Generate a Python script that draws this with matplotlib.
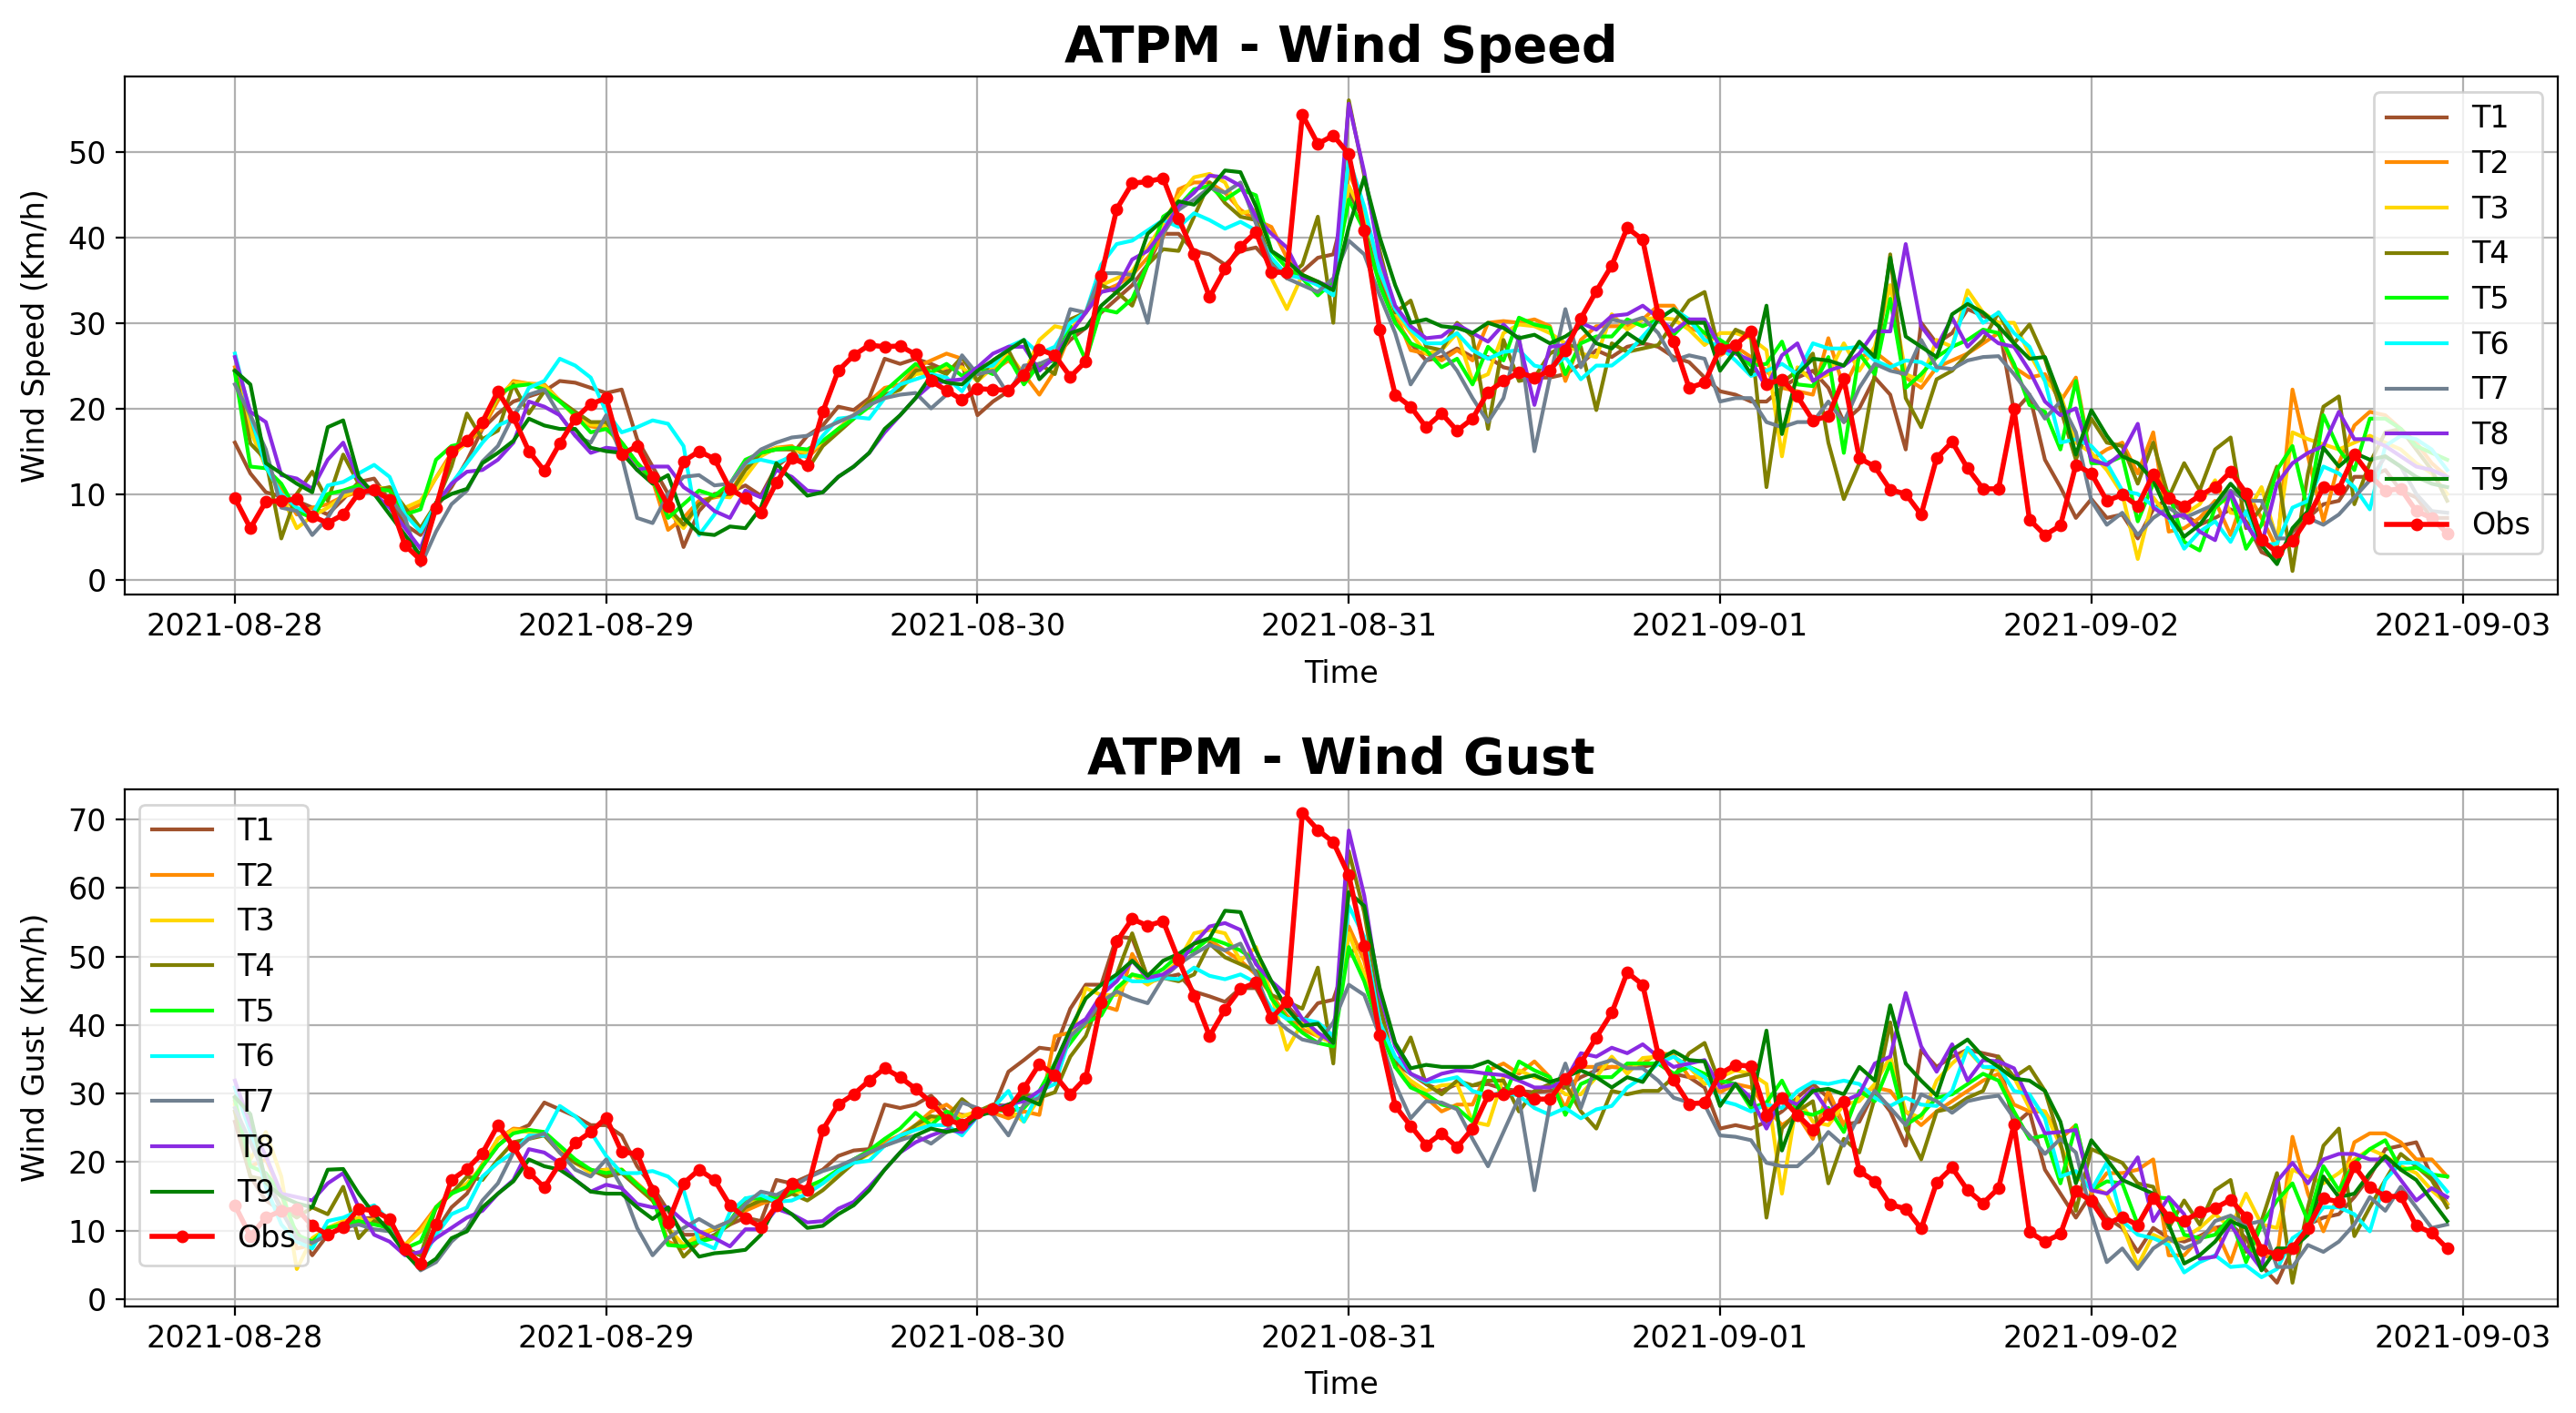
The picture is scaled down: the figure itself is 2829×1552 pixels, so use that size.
import matplotlib
matplotlib.use("Agg")
import matplotlib.pyplot as plt
import matplotlib.dates as mdates
import pandas as pd

times = pd.date_range("2021-08-28 00:00", periods=144, freq="h")

labels = ["T1", "T2", "T3", "T4", "T5", "T6", "T7", "T8", "T9"]
colors = ["sienna", "darkorange", "gold", "olive", "lime", "cyan", "slategray", "blueviolet", "green"]

# ---------------- Wind Speed (km/h) ----------------
obs_ws = [9.6, 6.1, 9.2, 9.3, 9.5, 7.5, 6.7, 7.7, 10.2, 10.6, 9.4, 4.1, 2.4, 8.5, 15.1, 16.3, 18.5, 22.1, 19.1, 15.1, 12.8, 16.0, 18.9, 20.6,
          21.3, 14.7, 15.7, 12.1, 8.7, 13.9, 15.1, 14.2, 10.7, 9.6, 7.9, 11.4, 14.3, 13.5, 19.7, 24.5, 26.3, 27.5, 27.3, 27.4, 26.4, 23.3, 22.2, 21.1,
          22.4, 22.3, 22.2, 24.0, 27.0, 26.3, 23.8, 25.6, 35.6, 43.4, 46.4, 46.6, 47.0, 42.3, 38.1, 33.1, 36.4, 39.0, 40.7, 36.0, 36.0, 54.4, 51.0, 52.0,
          49.8, 40.9, 29.3, 21.7, 20.3, 17.9, 19.5, 17.5, 18.9, 22.0, 23.3, 24.3, 23.7, 24.5, 26.9, 30.6, 33.8, 36.8, 41.2, 39.8, 31.1, 27.9, 22.5, 23.1,
          27.1, 27.5, 29.1, 22.9, 23.5, 21.5, 18.7, 19.2, 23.6, 14.3, 13.3, 10.6, 10.1, 7.7, 14.3, 16.2, 13.1, 10.7, 10.7, 20.0, 7.1, 5.3, 6.4, 13.5,
          12.5, 9.3, 10.0, 8.7, 12.4, 9.6, 8.7, 9.9, 10.9, 12.7, 10.2, 4.7, 3.3, 4.6, 7.3, 10.9, 10.7, 14.7, 12.3, 10.5, 10.7, 8.1, 7.3, 5.5]

t1_ws = [16.1, 12.5, 10.3, 9.8, 9.3, 8.5, 7.7, 9.5, 11.5, 11.9, 9.3, 6.5, 5.3, 8.5, 10.9, 14.0, 17.7, 19.5, 20.9, 21.5, 22.1, 23.3, 23.1, 22.5,
         21.9, 22.3, 16.5, 13.3, 10.1, 3.9, 8.1, 10.1, 10.3, 11.1, 9.9, 13.3, 14.7, 16.9, 18.1, 20.3, 19.9, 21.3, 25.9, 25.3, 25.9, 25.3, 24.5, 25.3,
         19.3, 20.9, 22.1, 24.5, 24.9, 26.1, 28.1, 29.5, 31.3, 32.9, 34.5, 36.9, 40.5, 40.5, 38.5, 38.1, 36.9, 38.5, 38.9, 36.9, 35.7, 36.1, 37.7, 38.1,
         45.3, 42.1, 35.3, 30.5, 27.7, 25.7, 26.1, 27.1, 26.1, 26.1, 24.9, 24.5, 23.7, 23.7, 24.1, 25.3, 26.9, 26.1, 27.3, 27.7, 27.3, 26.1, 25.5, 23.7,
         22.1, 21.7, 20.9, 20.9, 22.5, 23.7, 24.5, 22.5, 18.5, 20.1, 23.7, 21.7, 15.3, 30.1, 27.7, 28.9, 31.7, 30.9, 30.1, 19.7, 21.7, 14.1, 10.9, 7.3,
         9.5, 7.3, 7.7, 4.9, 8.3, 9.7, 7.7, 6.5, 7.3, 8.3, 6.9, 3.3, 2.5, 5.7, 7.3, 8.9, 9.3, 12.1, 12.1, 12.9, 10.5, 9.7, 7.3, 7.3]

t2_ws = [24.9, 18.0, 13.3, 10.5, 7.7, 8.5, 8.9, 9.8, 10.3, 10.6, 10.5, 8.0, 8.9, 12.0, 14.9, 16.0, 17.7, 21.0, 23.3, 23.0, 22.9, 21.0, 19.3, 18.0,
         17.7, 16.1, 13.7, 11.7, 5.9, 7.3, 9.3, 9.7, 10.1, 13.3, 14.9, 15.5, 15.7, 14.3, 16.1, 17.7, 19.3, 20.9, 22.5, 22.9, 24.9, 25.7, 26.5, 25.9,
         24.1, 24.5, 25.7, 24.1, 21.7, 24.5, 28.9, 31.3, 33.7, 34.5, 35.7, 37.7, 40.1, 45.7, 46.5, 46.5, 45.3, 43.3, 42.1, 41.3, 37.7, 35.7, 34.9, 34.1,
         47.7, 43.3, 36.1, 31.3, 26.9, 26.5, 25.7, 26.9, 25.7, 30.1, 30.3, 30.1, 30.5, 29.7, 23.3, 28.1, 29.7, 29.7, 29.7, 30.5, 32.1, 32.1, 29.5, 28.9,
         26.3, 27.3, 26.1, 24.5, 22.5, 22.1, 21.7, 28.3, 22.5, 26.1, 26.7, 25.3, 23.7, 22.5, 24.9, 25.7, 26.5, 27.7, 28.9, 24.9, 23.7, 24.1, 20.9, 23.7,
         14.1, 15.3, 16.1, 12.5, 17.3, 5.7, 6.1, 7.3, 9.3, 5.3, 10.5, 7.3, 3.7, 22.3, 14.5, 6.9, 13.7, 18.1, 19.7, 19.3, 17.7, 16.1, 13.7, 12.1]

t3_ws = [24.5, 17.5, 13.3, 10.0, 6.1, 7.5, 8.5, 9.8, 10.7, 10.9, 10.7, 8.5, 9.3, 12.0, 14.5, 16.2, 18.1, 21.5, 23.1, 23.0, 22.7, 21.0, 19.1, 18.2,
         18.1, 15.3, 13.7, 12.1, 8.1, 6.1, 8.9, 9.9, 9.7, 12.1, 14.5, 15.5, 15.3, 14.9, 16.1, 17.7, 19.1, 20.5, 21.5, 22.3, 24.1, 24.3, 24.9, 24.9,
         23.3, 24.9, 26.5, 24.1, 28.1, 29.7, 29.3, 31.3, 34.5, 35.3, 36.1, 38.9, 41.7, 44.9, 47.1, 47.5, 46.5, 42.9, 43.3, 35.3, 31.7, 35.7, 34.5, 34.5,
         46.1, 42.5, 36.9, 31.3, 28.9, 26.5, 26.9, 28.9, 23.3, 24.1, 28.9, 29.9, 29.7, 28.9, 27.7, 26.5, 26.1, 31.1, 29.3, 30.5, 30.7, 30.5, 29.3, 27.5,
         28.9, 28.9, 28.3, 26.9, 14.5, 24.9, 23.3, 24.1, 27.7, 24.5, 27.3, 34.5, 24.1, 23.3, 28.1, 27.3, 33.9, 31.3, 30.1, 30.1, 26.5, 23.3, 21.7, 16.1,
         14.9, 12.9, 10.1, 2.5, 9.7, 7.3, 7.7, 8.9, 11.7, 7.9, 7.7, 10.9, 4.7, 17.3, 16.5, 15.9, 15.3, 16.1, 16.9, 16.1, 15.3, 13.7, 12.5, 10.1]

t4_ws = [24.5, 16.0, 14.1, 4.9, 10.1, 12.7, 9.3, 14.7, 11.3, 10.5, 10.9, 8.5, 6.1, 9.0, 13.3, 19.5, 16.5, 17.5, 22.9, 19.5, 22.1, 21.0, 19.7, 18.5,
         18.5, 16.1, 13.7, 11.7, 8.5, 6.5, 8.9, 9.9, 10.1, 12.9, 14.9, 15.3, 15.3, 12.9, 15.7, 17.3, 18.9, 20.9, 21.7, 22.3, 24.5, 24.9, 24.1, 26.1,
         23.3, 25.7, 26.9, 23.3, 25.3, 24.1, 30.5, 31.3, 34.5, 33.7, 32.1, 36.9, 38.7, 38.5, 42.5, 46.5, 44.1, 42.5, 42.1, 37.3, 35.3, 36.9, 42.5, 30.1,
         56.1, 47.3, 38.5, 31.3, 32.7, 27.3, 26.9, 30.1, 28.5, 17.7, 28.1, 23.3, 23.7, 26.5, 27.5, 27.3, 19.9, 27.7, 26.7, 27.1, 27.5, 30.1, 32.7, 33.7,
         26.5, 29.3, 28.5, 10.9, 23.1, 24.5, 26.5, 16.1, 9.5, 13.7, 24.1, 38.1, 21.3, 17.9, 23.5, 24.5, 26.5, 28.1, 31.3, 27.7, 29.9, 25.9, 20.1, 14.1,
         18.9, 16.1, 15.7, 11.3, 16.1, 9.7, 13.7, 10.5, 15.3, 16.7, 6.1, 8.5, 13.3, 1.1, 12.5, 20.3, 21.5, 8.9, 13.7, 17.3, 17.7, 15.3, 12.9, 9.3]

t5_ws = [24.3, 13.3, 13.1, 11.3, 8.1, 7.3, 10.1, 10.5, 11.1, 10.7, 10.5, 7.7, 8.3, 14.1, 15.7, 16.1, 18.5, 21.7, 22.7, 22.9, 22.3, 20.9, 19.3, 17.3,
         17.7, 16.1, 13.7, 11.9, 7.3, 8.9, 10.5, 9.9, 11.3, 14.1, 14.9, 15.3, 15.5, 15.3, 16.3, 17.7, 18.9, 20.3, 22.1, 23.7, 25.3, 24.3, 25.3, 23.9,
         24.9, 24.1, 26.1, 22.9, 25.3, 25.7, 29.7, 25.7, 31.7, 31.3, 32.9, 36.9, 42.5, 43.7, 45.7, 46.1, 44.5, 45.7, 45.0, 38.5, 36.5, 35.3, 33.3, 34.9,
         44.5, 40.9, 34.5, 30.1, 27.7, 26.9, 24.9, 25.9, 22.9, 27.3, 25.7, 30.7, 29.9, 29.5, 24.1, 27.7, 28.5, 28.5, 30.5, 29.7, 30.5, 28.7, 30.5, 28.9,
         28.1, 26.9, 25.1, 25.3, 27.9, 22.9, 22.7, 26.1, 14.9, 26.5, 24.1, 32.9, 22.5, 24.1, 26.1, 27.3, 28.1, 29.3, 28.9, 25.3, 20.5, 19.7, 15.3, 23.3,
         13.7, 13.7, 14.5, 6.9, 11.3, 10.3, 4.5, 3.5, 8.5, 10.1, 3.7, 6.5, 12.9, 15.7, 8.1, 19.3, 15.3, 12.9, 18.9, 18.9, 17.7, 15.7, 14.9, 14.1]

t6_ws = [26.5, 19.3, 13.3, 10.1, 8.5, 7.7, 11.1, 11.5, 12.5, 13.5, 12.1, 7.7, 5.7, 8.9, 11.3, 13.7, 16.1, 18.1, 18.9, 22.5, 23.3, 25.9, 25.1, 23.7,
         19.7, 17.3, 17.9, 18.7, 18.3, 15.7, 5.3, 7.7, 11.3, 13.7, 14.1, 13.7, 14.5, 14.5, 16.9, 18.9, 19.1, 18.9, 21.3, 22.9, 23.5, 24.1, 23.7, 22.1,
         24.9, 25.1, 27.3, 28.1, 26.5, 27.3, 30.1, 31.3, 36.9, 39.3, 39.7, 40.9, 42.1, 41.3, 42.9, 42.1, 41.1, 41.9, 40.9, 37.7, 35.7, 35.3, 34.5, 33.3,
         49.3, 43.7, 36.1, 31.7, 29.3, 27.7, 27.7, 28.9, 26.9, 25.9, 26.7, 26.9, 25.1, 24.7, 26.1, 23.5, 25.1, 25.1, 26.5, 28.5, 30.5, 31.7, 30.5, 28.1,
         27.3, 25.7, 23.9, 24.5, 25.3, 24.1, 27.7, 27.1, 27.1, 27.3, 25.7, 24.9, 25.7, 25.5, 24.5, 27.3, 32.9, 30.1, 31.3, 28.9, 27.3, 23.3, 16.1, 16.5,
         15.7, 13.7, 10.5, 10.1, 8.7, 7.3, 3.7, 5.7, 6.9, 4.5, 8.1, 4.1, 4.3, 8.5, 9.3, 13.3, 12.5, 10.9, 8.3, 15.7, 16.9, 16.5, 15.3, 12.9]

t7_ws = [22.9, 19.3, 15.3, 8.5, 8.1, 5.3, 7.3, 10.3, 10.7, 10.1, 9.7, 7.3, 1.7, 5.7, 8.9, 10.5, 13.9, 15.7, 19.3, 21.7, 22.3, 19.3, 16.9, 16.1,
         19.3, 14.5, 7.3, 6.7, 10.1, 12.1, 12.3, 11.1, 11.3, 13.7, 15.3, 16.1, 16.7, 16.9, 17.7, 18.5, 19.3, 20.5, 21.3, 21.7, 21.9, 20.1, 21.7, 26.3,
         24.1, 24.5, 21.7, 25.1, 25.3, 26.1, 31.7, 31.3, 35.9, 35.9, 35.7, 30.1, 40.5, 43.3, 44.5, 45.9, 45.3, 46.5, 41.7, 36.9, 35.3, 34.5, 33.7, 35.3,
         39.7, 38.1, 33.3, 28.9, 22.9, 25.7, 26.9, 24.5, 21.3, 18.5, 21.3, 28.5, 15.1, 23.7, 31.7, 24.9, 28.1, 30.5, 30.1, 30.7, 28.9, 25.7, 26.3, 25.9,
         20.9, 21.3, 21.3, 18.5, 17.9, 18.5, 18.5, 20.9, 18.5, 22.5, 25.3, 24.5, 24.1, 28.1, 24.9, 24.7, 25.7, 26.1, 26.2, 24.1, 21.7, 18.9, 20.9, 17.3,
         9.3, 6.5, 7.9, 5.3, 7.3, 8.5, 7.3, 8.1, 8.9, 10.5, 9.3, 9.3, 4.9, 4.9, 7.3, 6.5, 7.7, 9.7, 11.7, 14.5, 13.3, 10.1, 8.1, 7.9]

t8_ws = [26.1, 19.7, 18.5, 12.3, 11.9, 10.7, 14.1, 16.1, 11.7, 10.1, 8.5, 6.1, 3.7, 8.9, 11.3, 12.7, 12.9, 14.1, 16.1, 20.9, 20.3, 19.3, 16.9, 14.9,
         15.5, 15.3, 12.9, 13.3, 13.3, 10.9, 9.7, 8.1, 7.3, 10.5, 9.7, 12.9, 12.1, 10.5, 10.3, 12.1, 13.3, 14.9, 17.3, 19.3, 21.3, 22.9, 23.3, 23.5,
         24.9, 26.5, 27.3, 27.3, 24.5, 26.1, 28.9, 31.3, 33.7, 34.1, 37.5, 38.5, 40.9, 43.7, 45.3, 47.3, 47.1, 46.1, 42.5, 40.5, 38.9, 35.3, 34.9, 34.1,
         55.7, 47.7, 37.7, 32.1, 29.7, 28.3, 28.5, 29.9, 28.9, 27.9, 29.9, 28.1, 20.5, 27.3, 27.5, 30.1, 29.3, 30.9, 31.1, 32.1, 30.7, 29.1, 30.5, 30.5,
         27.3, 26.5, 25.7, 22.5, 26.3, 27.7, 23.3, 24.5, 25.1, 26.5, 29.1, 29.1, 39.3, 29.7, 27.3, 30.7, 27.3, 29.1, 27.7, 27.3, 24.5, 20.9, 19.3, 20.1,
         14.1, 13.5, 14.9, 18.3, 8.5, 7.3, 7.7, 5.7, 4.7, 10.3, 6.5, 4.1, 11.3, 13.7, 14.9, 15.7, 19.7, 16.5, 16.5, 15.7, 14.5, 13.3, 12.9, 12.1]

t9_ws = [24.5, 22.9, 13.7, 12.5, 11.3, 10.3, 17.9, 18.7, 12.1, 10.1, 7.7, 5.3, 2.9, 9.1, 10.1, 10.7, 13.7, 14.9, 16.3, 18.9, 18.1, 17.7, 17.7, 15.5,
         15.1, 14.9, 12.9, 11.3, 12.3, 7.3, 5.5, 5.3, 6.3, 6.1, 8.5, 13.7, 11.7, 9.9, 10.3, 12.1, 13.3, 14.9, 17.7, 19.3, 21.3, 23.9, 23.1, 22.9,
         24.5, 25.7, 26.9, 28.1, 23.5, 25.3, 28.9, 29.5, 32.1, 33.7, 35.3, 40.5, 42.1, 44.3, 43.9, 45.7, 47.9, 47.7, 43.7, 38.5, 37.3, 35.7, 34.9, 33.9,
         41.3, 47.1, 40.1, 34.5, 30.1, 30.5, 29.7, 29.5, 28.9, 30.1, 29.5, 28.3, 28.7, 27.7, 28.5, 29.7, 27.7, 27.1, 28.9, 27.7, 30.5, 31.7, 30.1, 30.1,
         24.5, 26.9, 24.1, 32.1, 17.1, 24.1, 25.9, 25.7, 25.1, 27.9, 26.1, 37.7, 28.5, 27.3, 26.1, 31.1, 32.3, 31.3, 29.7, 27.7, 25.9, 26.1, 21.3, 14.7,
         19.9, 16.9, 14.5, 13.7, 11.7, 7.7, 5.1, 6.5, 8.9, 11.3, 9.3, 4.1, 1.9, 6.1, 8.1, 15.5, 13.3, 14.9, 14.1, 14.5, 13.3, 12.1, 11.3, 10.9]

# ---------------- Wind Gust (km/h) ----------------
obs_wg = [13.7, 9.2, 11.9, 12.9, 13.2, 10.7, 9.4, 10.5, 13.2, 12.9, 11.7, 7.3, 5.2, 10.9, 17.4, 19.0, 21.3, 25.4, 22.3, 18.5, 16.3, 19.8, 22.8, 24.4,
          26.5, 21.5, 21.2, 15.8, 11.2, 16.9, 18.9, 17.4, 13.7, 11.8, 10.5, 13.7, 16.9, 16.0, 24.7, 28.4, 29.9, 31.9, 33.7, 32.4, 30.7, 28.7, 26.2, 25.5,
          27.2, 27.8, 27.7, 30.8, 34.3, 32.7, 29.9, 32.3, 43.3, 52.2, 55.5, 54.5, 55.2, 49.5, 44.3, 38.4, 42.3, 45.3, 46.2, 41.0, 43.4, 71.0, 68.5, 66.7,
          61.9, 51.5, 38.5, 28.2, 25.3, 22.5, 24.2, 22.2, 24.9, 29.7, 29.9, 30.4, 29.2, 29.2, 32.2, 34.5, 38.2, 41.8, 47.7, 45.9, 35.7, 32.0, 28.5, 28.7,
          32.9, 34.2, 34.0, 26.9, 29.3, 26.9, 24.7, 27.0, 28.8, 18.7, 17.2, 13.8, 13.2, 10.3, 17.0, 19.2, 15.9, 14.0, 16.2, 25.5, 9.8, 8.4, 9.5, 15.8,
          14.3, 11.0, 12.0, 10.8, 14.8, 12.0, 11.4, 12.7, 13.3, 14.5, 12.0, 7.2, 6.5, 7.4, 10.4, 14.7, 14.2, 19.4, 16.4, 15.0, 15.0, 10.7, 9.7, 7.4]

t1_wg = [25.9, 17.9, 14.4, 12.9, 9.9, 6.4, 9.4, 10.4, 11.7, 11.9, 10.4, 7.4, 6.4, 9.9, 13.4, 15.4, 19.4, 22.4, 24.4, 25.4, 28.7, 27.7, 26.7, 25.4,
         25.4, 23.9, 19.4, 16.4, 12.9, 9.4, 9.4, 10.2, 10.9, 11.9, 11.4, 17.4, 16.9, 17.9, 18.9, 20.9, 21.7, 21.9, 28.4, 27.9, 28.4, 29.7, 27.4, 26.9,
         26.7, 27.7, 33.2, 34.9, 36.7, 36.4, 42.4, 45.9, 45.9, 52.9, 52.7, 46.9, 46.9, 47.4, 44.9, 44.2, 43.4, 45.4, 45.4, 41.4, 42.9, 40.4, 43.2, 43.7,
         50.4, 52.0, 40.4, 34.4, 32.9, 31.4, 30.4, 31.4, 31.2, 31.4, 30.7, 30.4, 30.2, 30.4, 30.9, 32.4, 33.4, 33.9, 33.7, 33.9, 34.4, 32.9, 32.4, 30.9,
         24.9, 25.4, 24.9, 25.9, 27.4, 29.4, 31.4, 29.4, 25.4, 25.9, 30.4, 27.4, 22.4, 36.4, 33.9, 35.4, 36.4, 35.9, 35.4, 25.4, 27.4, 18.9, 15.4, 11.9,
         15.4, 11.9, 10.4, 6.9, 10.4, 8.9, 8.4, 9.2, 10.4, 10.9, 8.9, 4.9, 2.4, 7.4, 10.9, 11.9, 12.4, 14.9, 17.9, 21.9, 22.4, 22.9, 17.9, 13.9]

t2_wg = [28.9, 19.4, 20.4, 15.4, 7.4, 7.9, 10.4, 10.9, 10.9, 11.7, 9.9, 7.9, 10.4, 13.4, 15.7, 16.2, 19.7, 23.4, 24.9, 24.7, 24.2, 21.9, 19.9, 18.7,
         18.9, 18.9, 16.9, 14.9, 8.4, 7.4, 8.9, 10.4, 11.4, 12.9, 13.9, 14.7, 15.7, 15.9, 17.4, 18.4, 20.4, 21.4, 22.9, 23.9, 25.4, 27.4, 28.4, 26.7,
         27.2, 27.2, 26.4, 27.4, 26.9, 38.4, 38.9, 39.9, 42.9, 42.2, 50.4, 46.2, 46.9, 49.4, 51.9, 52.4, 50.9, 49.4, 47.4, 44.4, 41.4, 39.4, 38.4, 37.4,
         54.4, 49.4, 40.4, 34.4, 31.4, 29.4, 27.4, 28.4, 28.4, 33.4, 34.4, 32.9, 34.7, 32.4, 27.9, 33.9, 33.9, 33.9, 33.9, 34.4, 35.9, 35.7, 32.4, 32.4,
         30.2, 31.4, 30.9, 27.9, 25.4, 26.9, 23.4, 30.4, 25.4, 29.9, 30.9, 30.4, 27.4, 25.4, 27.4, 28.9, 30.4, 31.9, 32.9, 28.4, 27.4, 27.4, 23.4, 25.4,
         15.4, 18.4, 18.4, 18.9, 20.4, 6.4, 6.4, 8.9, 10.4, 5.4, 11.9, 6.4, 5.9, 23.7, 15.4, 9.9, 15.4, 22.9, 24.2, 24.2, 22.9, 20.4, 20.4, 17.9]

t3_wg = [28.4, 20.4, 24.4, 17.9, 4.4, 8.9, 10.4, 11.4, 11.9, 11.4, 10.4, 7.9, 9.9, 13.2, 15.4, 16.9, 19.4, 23.4, 24.7, 24.4, 23.9, 22.2, 19.9, 18.4,
         18.9, 18.9, 16.4, 14.4, 10.4, 7.9, 9.4, 10.4, 10.9, 14.2, 14.7, 14.4, 15.4, 15.9, 16.9, 18.4, 19.9, 21.2, 22.4, 23.4, 24.9, 26.2, 27.4, 26.7,
         27.4, 27.9, 27.7, 25.9, 29.4, 33.4, 37.9, 45.4, 44.4, 44.4, 47.4, 45.9, 47.4, 49.4, 53.4, 53.9, 53.4, 49.4, 51.4, 44.4, 36.4, 40.4, 38.4, 37.4,
         53.4, 47.4, 40.4, 33.9, 31.9, 30.4, 31.2, 31.4, 25.9, 25.4, 32.4, 33.4, 32.4, 31.9, 29.9, 29.9, 32.4, 35.4, 32.9, 35.2, 35.4, 35.4, 33.9, 31.4,
         32.4, 33.4, 32.9, 31.4, 15.4, 29.4, 25.9, 25.4, 28.4, 28.9, 31.4, 35.4, 27.4, 26.4, 31.9, 34.4, 36.4, 33.9, 33.4, 32.4, 27.9, 27.4, 22.4, 17.9,
         16.4, 15.4, 10.9, 4.9, 9.4, 8.4, 8.9, 10.4, 12.4, 10.4, 15.4, 10.9, 10.4, 18.9, 17.9, 16.9, 18.4, 20.4, 21.9, 20.9, 19.4, 18.4, 15.9, 13.9]

t4_wg = [27.4, 17.9, 17.4, 13.4, 11.9, 13.4, 12.4, 16.4, 8.9, 11.4, 10.9, 7.4, 6.4, 13.4, 15.4, 17.9, 17.4, 20.4, 22.9, 23.4, 23.9, 21.4, 19.9, 18.9,
         17.9, 18.4, 16.4, 14.4, 10.4, 6.2, 8.4, 9.4, 10.9, 13.4, 14.4, 14.4, 15.4, 14.4, 15.9, 17.9, 19.9, 21.4, 22.4, 23.4, 25.4, 26.7, 26.4, 29.2,
         27.4, 28.4, 28.2, 29.9, 29.4, 30.2, 35.4, 38.4, 44.4, 47.4, 53.4, 46.9, 46.9, 46.4, 47.4, 51.9, 49.9, 48.9, 47.9, 44.4, 43.4, 42.4, 48.4, 34.4,
         65.4, 56.4, 42.9, 33.9, 38.2, 31.4, 29.9, 31.9, 31.2, 31.9, 31.9, 27.4, 30.4, 31.4, 31.4, 27.4, 24.9, 30.4, 29.9, 30.4, 30.4, 32.4, 35.9, 37.4,
         31.4, 32.4, 32.9, 11.9, 24.9, 27.4, 28.9, 16.9, 23.4, 21.4, 29.4, 40.4, 24.9, 20.4, 27.4, 27.9, 29.4, 30.4, 35.4, 32.4, 33.9, 30.4, 22.9, 12.9,
         21.9, 20.9, 19.9, 16.9, 16.4, 10.4, 14.4, 10.9, 15.9, 17.4, 6.9, 11.4, 18.4, 2.4, 13.4, 22.4, 24.9, 9.2, 13.4, 17.4, 21.2, 19.4, 17.4, 13.4]

t5_wg = [29.2, 19.4, 18.4, 15.4, 9.4, 8.4, 10.4, 10.9, 11.4, 10.9, 10.4, 7.4, 8.4, 13.4, 15.4, 16.4, 19.4, 22.4, 24.2, 24.7, 24.4, 22.4, 20.4, 18.9,
         18.4, 18.9, 16.7, 14.9, 7.9, 7.7, 8.4, 8.9, 11.4, 14.7, 14.7, 14.9, 15.7, 16.4, 17.4, 18.9, 20.4, 21.7, 23.4, 24.9, 27.2, 25.4, 27.4, 25.9,
         26.7, 27.7, 27.4, 27.9, 30.4, 34.4, 37.4, 40.4, 41.4, 45.4, 47.4, 46.9, 48.2, 50.2, 50.9, 52.7, 51.9, 50.9, 49.4, 43.9, 40.9, 38.9, 37.4, 36.9,
         51.4, 46.4, 39.4, 33.9, 30.9, 29.9, 28.4, 27.9, 25.9, 33.9, 29.4, 34.7, 33.4, 32.4, 26.9, 31.4, 32.4, 32.4, 34.4, 34.4, 34.4, 32.9, 33.9, 32.9,
         31.9, 31.4, 27.9, 28.7, 31.9, 27.4, 26.9, 27.9, 24.4, 30.4, 28.9, 34.4, 25.4, 26.9, 29.4, 29.9, 31.4, 32.9, 31.9, 27.4, 23.4, 23.9, 16.9, 25.4,
         15.9, 17.2, 16.9, 10.9, 14.9, 14.7, 9.4, 8.9, 9.4, 11.9, 5.4, 10.9, 14.4, 16.9, 11.4, 19.4, 15.9, 19.9, 21.9, 23.2, 18.9, 19.2, 18.2, 17.9]

t6_wg = [30.9, 24.4, 16.4, 10.9, 8.4, 7.4, 11.4, 11.9, 12.9, 13.7, 11.4, 6.9, 5.4, 9.4, 12.4, 13.4, 17.9, 19.9, 21.4, 23.9, 23.9, 28.2, 26.7, 24.4,
         20.9, 18.4, 18.4, 18.7, 17.9, 15.9, 8.4, 7.4, 12.7, 14.7, 15.2, 14.2, 14.4, 15.4, 16.9, 18.7, 19.9, 20.2, 22.4, 23.9, 24.7, 25.4, 25.4, 23.9,
         26.7, 27.9, 30.4, 25.9, 30.4, 31.4, 38.4, 40.4, 44.4, 47.4, 46.4, 46.4, 46.9, 46.7, 48.4, 47.2, 46.7, 47.4, 46.2, 42.4, 40.9, 40.9, 40.4, 38.4,
         57.4, 52.9, 40.4, 35.4, 32.9, 31.7, 31.9, 32.4, 30.4, 29.7, 30.2, 29.7, 27.9, 26.9, 27.9, 26.4, 27.7, 28.2, 30.9, 32.4, 34.4, 35.4, 33.9, 32.4,
         29.0, 28.4, 27.4, 28.4, 27.9, 30.4, 31.7, 31.4, 31.9, 31.4, 29.4, 28.2, 29.4, 28.4, 28.2, 30.4, 36.7, 33.9, 33.9, 30.4, 29.9, 26.4, 17.9, 18.7,
         15.9, 19.9, 11.4, 9.4, 8.9, 7.9, 3.9, 5.4, 6.4, 4.7, 4.9, 3.2, 4.4, 8.9, 10.4, 13.4, 13.4, 12.4, 9.9, 17.4, 19.9, 19.9, 18.4, 15.7]

t7_wg = [27.9, 22.9, 17.9, 12.9, 8.9, 8.2, 9.4, 10.4, 10.9, 10.2, 9.9, 6.9, 4.2, 5.4, 8.4, 10.4, 14.4, 16.9, 21.4, 23.4, 24.2, 21.4, 18.9, 17.9,
         20.4, 16.4, 10.4, 6.4, 8.9, 10.4, 11.7, 10.4, 11.4, 13.9, 15.7, 15.2, 16.4, 17.7, 18.7, 19.4, 20.4, 21.4, 22.4, 23.2, 23.9, 22.7, 24.4, 28.7,
         27.9, 26.9, 23.9, 28.4, 29.4, 32.9, 38.4, 40.4, 43.4, 44.9, 43.9, 43.2, 46.9, 48.9, 50.4, 51.7, 50.9, 51.9, 47.4, 41.4, 39.4, 37.9, 37.4, 40.4,
         45.9, 44.4, 38.4, 31.4, 26.4, 28.9, 28.7, 27.7, 23.4, 19.4, 24.4, 29.4, 15.9, 28.4, 34.4, 27.9, 34.2, 34.9, 33.7, 33.7, 31.9, 29.4, 28.7, 28.4,
         23.9, 23.7, 23.2, 19.9, 19.4, 19.4, 21.4, 24.4, 22.4, 26.9, 30.4, 27.9, 25.4, 29.9, 28.9, 27.2, 28.9, 29.4, 29.7, 26.4, 23.9, 21.2, 23.4, 21.4,
         12.4, 5.4, 7.4, 4.4, 7.4, 8.9, 7.4, 8.4, 11.4, 12.2, 10.9, 11.4, 4.7, 4.7, 7.9, 6.9, 8.4, 10.9, 14.9, 12.9, 16.4, 13.4, 10.4, 10.9]

t8_wg = [31.9, 25.4, 20.9, 15.4, 14.9, 14.4, 16.9, 18.4, 13.4, 9.4, 8.4, 6.4, 6.9, 8.9, 10.4, 11.9, 12.9, 15.4, 17.4, 21.9, 21.4, 19.9, 17.4, 15.7,
         16.7, 16.2, 13.9, 13.4, 13.4, 11.4, 9.9, 8.9, 7.7, 10.2, 10.2, 13.2, 12.4, 11.2, 11.4, 13.2, 14.2, 16.4, 18.9, 21.4, 22.9, 23.9, 24.7, 24.4,
         26.7, 27.9, 28.4, 28.9, 30.4, 32.4, 39.4, 40.9, 44.4, 46.4, 49.4, 46.9, 47.4, 48.9, 51.9, 54.4, 54.9, 53.9, 48.9, 46.4, 44.4, 40.9, 38.9, 37.4,
         68.4, 58.9, 44.4, 36.9, 32.9, 31.9, 32.9, 33.4, 33.2, 32.9, 32.7, 31.9, 30.9, 30.9, 31.9, 35.9, 35.4, 36.7, 35.9, 37.2, 35.4, 33.9, 34.4, 34.9,
         30.9, 31.4, 29.4, 24.9, 29.4, 28.4, 30.7, 27.4, 28.9, 29.9, 34.4, 35.4, 44.7, 36.9, 33.2, 37.2, 31.9, 34.9, 34.7, 33.7, 28.9, 24.2, 24.4, 24.7,
         15.9, 15.4, 17.4, 20.7, 11.4, 14.9, 12.4, 5.9, 6.2, 10.9, 7.4, 4.4, 17.2, 19.9, 16.9, 20.4, 21.2, 21.2, 20.4, 20.4, 17.4, 14.4, 16.2, 14.9]

t9_wg = [29.5, 27.0, 17.0, 15.0, 14.0, 13.4, 18.9, 19.0, 15.4, 12.4, 9.9, 6.7, 4.4, 5.9, 8.9, 9.9, 13.4, 15.4, 17.2, 20.4, 19.4, 18.9, 17.4, 15.7,
         15.4, 15.4, 13.4, 11.7, 13.4, 8.9, 6.2, 6.7, 6.9, 7.2, 9.4, 13.9, 12.4, 10.4, 10.7, 12.4, 13.7, 15.9, 18.9, 21.4, 23.9, 24.9, 24.4, 24.9,
         26.7, 27.4, 28.4, 29.4, 28.4, 34.4, 39.4, 43.9, 45.9, 47.4, 49.4, 47.2, 49.4, 50.4, 51.9, 52.7, 56.7, 56.5, 50.9, 46.4, 42.4, 39.9, 40.2, 37.4,
         59.4, 57.4, 45.4, 37.4, 33.7, 34.2, 33.9, 33.9, 33.9, 34.7, 33.4, 32.2, 32.7, 31.7, 32.4, 33.4, 32.4, 30.9, 32.4, 31.7, 34.9, 36.2, 34.9, 34.7,
         28.2, 31.4, 28.4, 39.2, 21.7, 27.9, 30.4, 30.7, 29.9, 33.9, 31.9, 42.9, 34.4, 31.9, 29.7, 36.4, 37.9, 35.4, 33.9, 32.2, 31.9, 30.4, 25.9, 16.9,
         23.2, 20.4, 17.4, 16.4, 15.4, 10.9, 5.2, 6.4, 8.4, 11.4, 10.4, 4.2, 7.4, 7.4, 9.4, 17.9, 14.9, 15.4, 18.4, 20.9, 18.9, 17.4, 14.4, 11.4]

speed_models = [t1_ws, t2_ws, t3_ws, t4_ws, t5_ws, t6_ws, t7_ws, t8_ws, t9_ws]
gust_models = [t1_wg, t2_wg, t3_wg, t4_wg, t5_wg, t6_wg, t7_wg, t8_wg, t9_wg]

W, H, DPI = 2829, 1552, 200
fig = plt.figure(figsize=(W / DPI, H / DPI), dpi=DPI)

ax1 = fig.add_axes([136.5 / W, 1 - 653 / H, (2809 - 136.5) / W, 568.7 / H])
ax2 = fig.add_axes([136.5 / W, 1 - 1434.7 / H, (2809 - 136.5) / W, 567.8 / H])


def draw(ax, models, obs, title, ylabel, legend_loc):
    for lab, col, vals in zip(labels, colors, models):
        ax.plot(times, vals, color=col, linewidth=1.5, label=lab)
    ax.plot(times, obs, color="red", marker="o", markersize=4, linewidth=2, label="Obs")
    ax.set_title(title, fontsize=20, fontweight="bold")
    ax.set_xlabel("Time", fontsize=12, labelpad=6.5)
    ax.set_ylabel(ylabel, fontsize=12, labelpad=6.5)
    ax.tick_params(axis="both", labelsize=12)
    ax.xaxis.set_major_locator(mdates.DayLocator())
    ax.xaxis.set_major_formatter(mdates.DateFormatter("%Y-%m-%d"))
    ax.grid(True)
    ax.legend(loc=legend_loc, fontsize=12)


draw(ax1, speed_models, obs_ws, "ATPM - Wind Speed", "Wind Speed (Km/h)", "upper right")
draw(ax2, gust_models, obs_wg, "ATPM - Wind Gust", "Wind Gust (Km/h)", "upper left")

fig.savefig("out.png", dpi=DPI)
